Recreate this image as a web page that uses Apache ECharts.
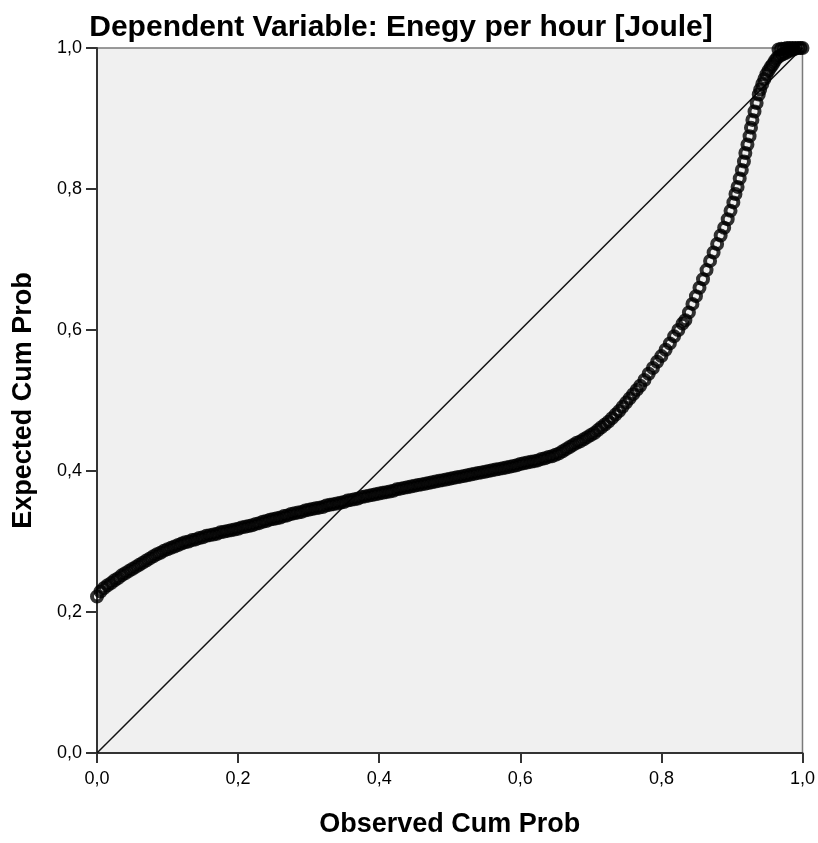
<!DOCTYPE html>
<html>
<head>
<meta charset="utf-8">
<script src="https://cdn.jsdelivr.net/npm/echarts@6/dist/echarts.min.js"></script>
<style>
  html, body { margin: 0; padding: 0; background: #fff; }
  #chart { width: 818px; height: 843px; }
</style>
</head>
<body>
<div id="chart"></div>
<script>
// P-P plot, [observed cum prob, expected cum prob]

// long flat stretch, left part
const flatLeft = [
  [0.000, 0.222], [0.005, 0.229], [0.010, 0.234], [0.015, 0.238], [0.020, 0.241],
  [0.025, 0.245], [0.030, 0.248], [0.035, 0.252], [0.040, 0.255], [0.045, 0.258],
  [0.050, 0.261], [0.055, 0.264], [0.060, 0.267], [0.065, 0.270], [0.070, 0.273],
  [0.075, 0.276], [0.080, 0.279], [0.085, 0.282], [0.090, 0.284], [0.095, 0.287],
  [0.100, 0.289], [0.105, 0.291], [0.110, 0.293], [0.115, 0.295], [0.120, 0.297],
  [0.125, 0.299], [0.130, 0.300], [0.135, 0.302], [0.140, 0.303], [0.145, 0.305],
  [0.150, 0.306], [0.155, 0.308], [0.160, 0.309], [0.165, 0.310], [0.170, 0.311],
  [0.175, 0.313], [0.180, 0.314], [0.185, 0.315], [0.190, 0.316], [0.195, 0.317],
  [0.200, 0.318], [0.205, 0.320], [0.210, 0.321], [0.215, 0.322], [0.220, 0.323],
  [0.225, 0.325], [0.230, 0.326], [0.235, 0.328], [0.240, 0.329], [0.245, 0.331],
  [0.250, 0.332], [0.255, 0.333], [0.260, 0.334], [0.265, 0.336], [0.270, 0.337],
  [0.275, 0.339], [0.280, 0.340], [0.285, 0.341], [0.290, 0.342], [0.295, 0.344],
  [0.300, 0.345], [0.305, 0.346], [0.310, 0.347], [0.315, 0.348], [0.320, 0.349],
  [0.325, 0.351], [0.330, 0.352], [0.335, 0.353], [0.340, 0.354], [0.345, 0.355],
  [0.350, 0.356], [0.355, 0.358], [0.360, 0.359], [0.365, 0.360], [0.370, 0.361],
  [0.375, 0.363], [0.380, 0.364], [0.385, 0.365], [0.390, 0.366], [0.395, 0.367]
];

// long flat stretch, right part
const flatRight = [
  [0.400, 0.368], [0.405, 0.369], [0.410, 0.370], [0.415, 0.371], [0.420, 0.372],
  [0.425, 0.374], [0.430, 0.375], [0.435, 0.376], [0.440, 0.377], [0.445, 0.378],
  [0.450, 0.379], [0.455, 0.380], [0.460, 0.381], [0.465, 0.382], [0.470, 0.383],
  [0.475, 0.384], [0.480, 0.385], [0.485, 0.386], [0.490, 0.387], [0.495, 0.388],
  [0.500, 0.389], [0.505, 0.390], [0.510, 0.391], [0.515, 0.392], [0.520, 0.393],
  [0.525, 0.394], [0.530, 0.395], [0.535, 0.396], [0.540, 0.397], [0.545, 0.398],
  [0.550, 0.399], [0.555, 0.400], [0.560, 0.401], [0.565, 0.402], [0.570, 0.403],
  [0.575, 0.404], [0.580, 0.405], [0.585, 0.406], [0.590, 0.407], [0.595, 0.408],
  [0.600, 0.410], [0.605, 0.411], [0.610, 0.412], [0.615, 0.413], [0.620, 0.414],
  [0.625, 0.415], [0.630, 0.417], [0.635, 0.418], [0.640, 0.420], [0.645, 0.421]
];

// bend upwards
const bend = [
  [0.650, 0.423], [0.655, 0.425], [0.660, 0.428], [0.665, 0.431], [0.670, 0.434],
  [0.675, 0.437], [0.680, 0.440], [0.685, 0.442], [0.690, 0.445], [0.695, 0.448],
  [0.700, 0.451], [0.705, 0.454], [0.710, 0.458], [0.715, 0.462], [0.720, 0.466],
  [0.725, 0.470], [0.730, 0.475], [0.735, 0.480], [0.740, 0.485], [0.745, 0.491],
  [0.750, 0.497], [0.755, 0.503], [0.760, 0.509], [0.765, 0.515], [0.770, 0.521],
  [0.776, 0.529], [0.782, 0.538], [0.788, 0.546], [0.794, 0.555], [0.800, 0.563],
  [0.806, 0.572], [0.812, 0.581], [0.818, 0.591], [0.824, 0.600], [0.830, 0.609]
];

// steep climb, single circles visible
const steep = [
  [0.834, 0.614], [0.839, 0.625], [0.844, 0.637], [0.849, 0.648], [0.854, 0.660],
  [0.859, 0.672], [0.864, 0.685], [0.869, 0.698], [0.874, 0.710], [0.879, 0.722],
  [0.884, 0.734], [0.889, 0.745], [0.894, 0.757], [0.898, 0.769], [0.902, 0.781],
  [0.905, 0.793], [0.908, 0.803], [0.911, 0.815], [0.914, 0.827], [0.917, 0.839],
  [0.919, 0.851], [0.922, 0.863], [0.925, 0.875], [0.927, 0.887], [0.929, 0.898],
  [0.932, 0.910], [0.935, 0.922], [0.938, 0.934]
];

// dense cluster near the top right
const topCluster = [
  [0.940, 0.941], [0.943, 0.949], [0.946, 0.956], [0.949, 0.963], [0.952, 0.968],
  [0.955, 0.973], [0.958, 0.977], [0.961, 0.982], [0.964, 0.986], [0.968, 0.989],
  [0.972, 0.991], [0.976, 0.993], [0.980, 0.995], [0.984, 0.997], [0.988, 0.998]
];

// run along the top edge
const topRow = [
  [0.966, 0.998], [0.970, 0.999], [0.974, 0.999], [0.978, 1.000], [0.982, 1.000],
  [0.986, 1.000], [0.990, 1.000], [0.994, 1.000], [0.997, 1.000], [1.000, 1.000]
];

const diagonal = [[0, 0], [1, 1]];

const points = flatLeft.concat(flatRight, bend, steep, topCluster, topRow);

const fmt = v => v.toFixed(1).replace('.', ',');
const FONT = 'Liberation Sans, Arial, sans-serif';

const myChart = echarts.init(document.getElementById('chart'));

const option = {
  animation: false,
  backgroundColor: '#fff',
  title: {
    text: 'Dependent Variable: Enegy per hour [Joule]',
    left: 396,
    textAlign: 'center',
    top: 8,
    textStyle: { fontFamily: FONT, fontSize: 30, fontWeight: 'bold', color: '#000' }
  },
  grid: {
    left: 97, right: 15, top: 48, bottom: 88,
    show: true,
    backgroundColor: '#f0f0f0',
    borderColor: '#7a7a7a',
    borderWidth: 1.5
  },
  xAxis: {
    type: 'value',
    min: 0, max: 1, interval: 0.2,
    name: 'Observed Cum Prob',
    nameLocation: 'middle',
    nameGap: 58,
    nameTextStyle: { fontFamily: FONT, fontSize: 27, fontWeight: 'bold', color: '#000' },
    axisLine: { show: true, lineStyle: { color: '#333', width: 2 } },
    axisTick: { show: true, length: 10, lineStyle: { color: '#333', width: 2 } },
    axisLabel: { formatter: fmt, margin: 17, fontFamily: FONT, fontSize: 18, color: '#000' },
    splitLine: { show: false }
  },
  yAxis: {
    type: 'value',
    min: 0, max: 1, interval: 0.2,
    name: 'Expected Cum Prob',
    nameLocation: 'middle',
    nameGap: 60,
    nameTextStyle: { fontFamily: FONT, fontSize: 27, fontWeight: 'bold', color: '#000' },
    axisLine: { show: true, lineStyle: { color: '#333', width: 2 } },
    axisTick: { show: true, length: 11, lineStyle: { color: '#333', width: 2 } },
    axisLabel: { formatter: fmt, margin: 15, fontFamily: FONT, fontSize: 18, color: '#000' },
    splitLine: { show: false }
  },
  series: [
    {
      type: 'line',
      data: diagonal,
      symbol: 'none',
      silent: true,
      z: 1,
      lineStyle: { color: '#111', width: 1.5 }
    },
    {
      type: 'scatter',
      data: points,
      symbol: 'circle',
      symbolSize: 10,
      z: 2,
      itemStyle: { color: 'rgba(0,0,0,0)', borderColor: '#000', borderWidth: 4 }
    }
  ]
};

myChart.setOption(option);
</script>
</body>
</html>
